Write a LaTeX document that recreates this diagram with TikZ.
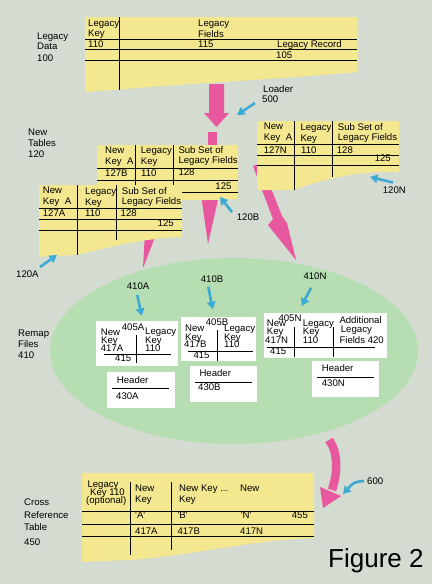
\documentclass[tikz,border=0pt]{standalone}
\usepackage{fontspec}
\setmainfont{Liberation Sans}
\usetikzlibrary{arrows.meta}
\definecolor{bg}{HTML}{D4DBD0}
\definecolor{yel}{HTML}{F3E78F}
\definecolor{pnk}{HTML}{E8589F}
\definecolor{cyn}{HTML}{3DAAD6}
\definecolor{grn}{HTML}{B7DDB2}
\newcommand\fsz{\fontsize{9.6}{10}\selectfont}
\begin{document}
\begin{tikzpicture}[x=1pt,y=-1pt,
 tx/.style={anchor=base west,inner sep=0pt,font=\fsz},
 tr/.style={anchor=base east,inner sep=0pt,font=\fsz},
 rule/.style={line width=0.9pt,black},
 card/.style={fill=white},
 ptr/.style={cyn,line width=2.6pt,-{Triangle[width=8.5pt,length=7.5pt]}},
 pinkfill/.style={fill=pnk},
 sheet/.style={fill=yel}]
\fill[bg] (0,0) rectangle (432,584);
\useasboundingbox (0,0) rectangle (432,584);
% remap ellipse
\fill[grn] (234,351) ellipse [x radius=184pt, y radius=93pt];
% pink arrows
\fill[pinkfill] (209,84) -- (224,84) -- (224,113) -- (229,113) -- (216.5,127) -- (204,113) -- (209,113) -- cycle;
\fill[pinkfill] (208,132) rectangle (217,146);
\fill[pinkfill] (201,195) -- (219,195) -- (208,244) -- cycle;
\fill[pinkfill] (145,232) -- (157,232) -- (143,268) -- cycle;
\fill[pinkfill] (253,166) -- (261,163) -- (282,216) -- (287,223) -- (296,260) -- (268,225) -- (273,219) -- cycle;
\draw[pnk,line width=8.5pt] (329,440) .. controls (338,452) and (338,472) .. (332,490);
\fill[pinkfill] (320,487) -- (341,496) -- (323,508) -- cycle;
% Legacy data
\fill[sheet] (85,17) -- (358,17) -- (358,72) .. controls (280,79) and (150,86) .. (115,90) -- (85,92) -- cycle;
\draw[rule] (85,39.3) -- (357,39.3) (85,49.3) -- (357,49.3) (85,60.3) -- (357,60.3);
\draw[rule] (119.3,17) -- (119.3,90);
\node[tx] (ld1) at (37,39) {Legacy};
\node[tx] (ld2) at (37,49.5) {Data};
\node[tx] (ld3) at (37,61) {100};
\node[tx] (lk1) at (88,26) {Legacy};
\node[tx] (lk2) at (88,36) {Key};
\node[tx] (lf1) at (198,26.5) {Legacy};
\node[tx] (lf2) at (198,37) {Fields};
\node[tx] (lv1) at (88,47.5) {110};
\node[tx] (lv2) at (198,47.5) {115};
\node[tx] (lv3) at (277,47.5) {Legacy Record};
\node[tx] (lv4) at (276,58.5) {105};
\node[tx] (ldr1) at (263,92.3) {Loader};
\node[tx] (ldr2) at (262,102.7) {500};
% New tables label
\node[tx] (nt1) at (28,135) {New};
\node[tx] (nt2) at (28,146.7) {Tables};
\node[tx] (nt3) at (28,157.3) {120};
% 120B
\fill[sheet] (97,145) -- (238,145) -- (238,199) .. controls (200,201) and (150,200) .. (97,200) -- cycle;
\draw[rule] (97,168) -- (238,168) (97,180) -- (238,180) (97,192) -- (238,192);
\draw[rule] (135,145) -- (135,200) (173,145) -- (173,200);
\node[tx] (b1) at (105,153.3) {New};
\node[tx] (b2) at (105,164) {Key\ \ A};
\node[tx] (b3) at (140.7,153.5) {Legacy};
\node[tx] (b4) at (140.7,164.5) {Key};
\node[tx] (b5) at (178.3,153.3) {Sub Set of};
\node[tx] (b6) at (178.3,163.5) {Legacy Fields};
\node[tx] (b7) at (105,176) {127B};
\node[tx] (b8) at (141,176) {110};
\node[tx] (b9) at (178.3,175) {128};
\node[tr] (b10) at (231.7,189.3) {125};
% 120A
\fill[sheet] (39,185) -- (182,185) -- (182,237) .. controls (140,238) and (100,250) .. (75,255) -- (39,257) -- cycle;
\draw[rule] (39,208.3) -- (181.7,208.3) (39,219.3) -- (181.7,219.3) (39,230) -- (181.7,230);
\draw[rule] (77,185) -- (77,255) (116,185) -- (116,240);
\node[tx] (a1) at (42.7,193.3) {New};
\node[tx] (a2) at (42.7,204.3) {Key\ \ A};
\node[tx] (a3) at (85,194.3) {Legacy};
\node[tx] (a4) at (85,205) {Key};
\node[tx] (a5) at (121.7,194.3) {Sub Set of};
\node[tx] (a6) at (121.7,204.3) {Legacy Fields};
\node[tx] (a7) at (42.7,216.7) {127A};
\node[tx] (a8) at (85,216.7) {110};
\node[tx] (a9) at (120.5,216.7) {128};
\node[tr] (a10) at (174,226.7) {125};
% 120N
\fill[sheet] (257,121) -- (399,121) -- (399,172) .. controls (360,170) and (320,180) .. (294,190) -- (257,190) -- cycle;
\draw[rule] (257,144) -- (399,144) (257,155) -- (399,155) (257,165.7) -- (399,165.7);
\draw[rule] (294.3,121) -- (294.3,190) (332.7,121) -- (332.7,177);
\node[tx] (n1) at (263.7,129.3) {New};
\node[tx] (n2) at (263.7,140) {Key\ \ A};
\node[tx] (n3) at (300.3,130) {Legacy};
\node[tx] (n4) at (300.3,141) {Key};
\node[tx] (n5) at (337.7,130) {Sub Set of};
\node[tx] (n6) at (337.7,140.5) {Legacy Fields};
\node[tx] (n7) at (263.7,153.3) {127N};
\node[tx] (n8) at (301,153.3) {110};
\node[tx] (n9) at (336.7,153) {128};
\node[tr] (n10) at (391,161.7) {125};
% table labels
\node[tx] (l120N) at (382.7,193.3) {120N};
\node[tx] (l120B) at (236.7,220.7) {120B};
\node[tx] (l120A) at (16,277) {120A};
% remap labels
\node[tx] (rm1) at (18,336.5) {Remap};
\node[tx] (rm2) at (18,347.5) {Files};
\node[tx] (rm3) at (18,358.5) {410};
\node[tx] (r410A) at (126.7,289.3) {410A};
\node[tx] (r410B) at (200.7,282) {410B};
\node[tx] (r410N) at (303.3,279) {410N};
% 405A
\fill[card] (96,321) rectangle (178,366);
\draw[rule] (136,335) -- (136,363) (104,354.3) -- (171,354.3);
\node[tx] (p1) at (121.7,330) {405A};
\node[tx] (p2) at (100.7,335) {New};
\node[tx] (p3) at (101,343.3) {Key};
\node[tx] (p4) at (100.7,351) {417A};
\node[tx] (p5) at (145,334.7) {Legacy};
\node[tx] (p6) at (145,343) {Key};
\node[tx] (p7) at (145,351) {110};
\node[tx] (p8) at (115,361.7) {415};
\fill[card] (107,372) rectangle (175,408);
\draw[rule] (112,388) -- (169,388);
\node[tx] (h1) at (116.7,383.3) {Header};
\node[tx] (h2) at (116,399.3) {430A};
% 405B
\fill[card] (181,317) rectangle (256,361);
\draw[rule] (217,330) -- (217,361) (188,351) -- (253,351);
\node[tx] (q1) at (205.7,325) {405B};
\node[tx] (q2) at (185,331.7) {New};
\node[tx] (q3) at (185,340) {Key};
\node[tx] (q4) at (184,347.3) {417B};
\node[tx] (q5) at (224,331.7) {Legacy};
\node[tx] (q6) at (224,340) {Key};
\node[tx] (q7) at (224,347.3) {110};
\node[tx] (q8) at (193.3,358.3) {415};
\fill[card] (190,366) rectangle (257,402);
\draw[rule] (195,382) -- (252,382);
\node[tx] (h3) at (199.3,376.7) {Header};
\node[tx] (h4) at (198,390) {430B};
% 405N
\fill[card] (264,313) rectangle (387,358);
\draw[rule] (294,327) -- (294,357) (333,327) -- (333,357) (267,347.3) -- (375,347.3);
\node[tx] (s1) at (278.3,321.7) {405N};
\node[tx] (s2) at (266.7,326.7) {New};
\node[tx] (s3) at (266.7,334) {Key};
\node[tx] (s4) at (265,343.3) {417N};
\node[tx] (s5) at (302.7,326) {Legacy};
\node[tx] (s6) at (302.7,334) {Key};
\node[tx] (s7) at (302.7,343.3) {110};
\node[tx] (s8) at (339.3,323.3) {Additional};
\node[tx] (s9) at (340.7,332.7) {Legacy};
\node[tx] (s10) at (339.3,343.3) {Fields 420};
\node[tx] (s11) at (270,354) {415};
\fill[card] (312,361) rectangle (379,397);
\draw[rule] (317,377) -- (374,377);
\node[tx] (h5) at (321.7,371.7) {Header};
\node[tx] (h6) at (321.7,386.7) {430N};
% Cross reference table
\fill[sheet] (82,473) -- (314,473) -- (314,538) .. controls (250,540) and (190,556) .. (130,560) -- (82,562) -- cycle;
\draw[rule] (82,511.7) -- (314,511.7) (82,524) -- (314,524) (82,536.7) -- (314,536.7);
\draw[rule] (130.7,482) -- (130.7,555) (171.7,482) -- (171.7,550);
\node[tx] (x1) at (87.3,487.3) {Legacy};
\node[tx] (x2) at (90,495.5) {Key 110};
\node[tx] (x3) at (86,503.5) {(optional)};
\node[tx] (x4) at (135,491.7) {New};
\node[tx] (x5) at (135,502.7) {Key};
\node[tx] (x6) at (179,491.7) {New Key ...};
\node[tx] (x7) at (179,502.7) {Key};
\node[tx] (x8) at (240,491.7) {New};
\node[tx] (x9) at (135,518.3) {\textquotesingle A\textquotesingle};
\node[tx] (x10) at (177.3,518.3) {\textquotesingle B\textquotesingle};
\node[tx] (x11) at (240.7,518.3) {\textquotesingle N\textquotesingle};
\node[tx] (x12) at (291.7,518.3) {455};
\node[tx] (x13) at (135,534) {417A};
\node[tx] (x14) at (177.3,534) {417B};
\node[tx] (x15) at (240,534) {417N};
\node[tx] (c1) at (24,505) {Cross};
\node[tx] (c2) at (24,518.3) {Reference};
\node[tx] (c3) at (24,530.7) {Table};
\node[tx] (c4) at (24,545) {450};
\node[tx] (l600) at (367,484) {600};
\node[anchor=base west,inner sep=0pt,font=\fontsize{26}{30}\selectfont] (fig) at (328,567.3) {Figure 2};
% cyan pointers
\coordinate (kLa) at (255,103); \coordinate (kLb) at (237,115);
\coordinate (kBa) at (232,212); \coordinate (kBb) at (220,197);
\coordinate (kNa) at (393,182.5); \coordinate (kNb) at (370,177);
\coordinate (kAa) at (40,267); \coordinate (kAb) at (57,255);
\coordinate (k1a) at (137.3,295); \coordinate (k1b) at (141.7,316);
\coordinate (k2a) at (208.3,286.7); \coordinate (k2b) at (212.7,309.3);
\coordinate (k3a) at (311,287.7); \coordinate (k3b) at (301.7,306);
\coordinate (k6a) at (364,481); \coordinate (k6b) at (343,494);
\draw[ptr] (kLa) -- (kLb);
\draw[ptr] (kBa) -- (kBb);
\draw[ptr] (kNa) -- (kNb);
\draw[ptr] (kAa) -- (kAb);
\draw[ptr] (k1a) -- (k1b);
\draw[ptr] (k2a) -- (k2b);
\draw[ptr] (k3a) -- (k3b);
\draw[ptr] (k6a) .. controls (354,482) .. (k6b);
\end{tikzpicture}
\end{document}
